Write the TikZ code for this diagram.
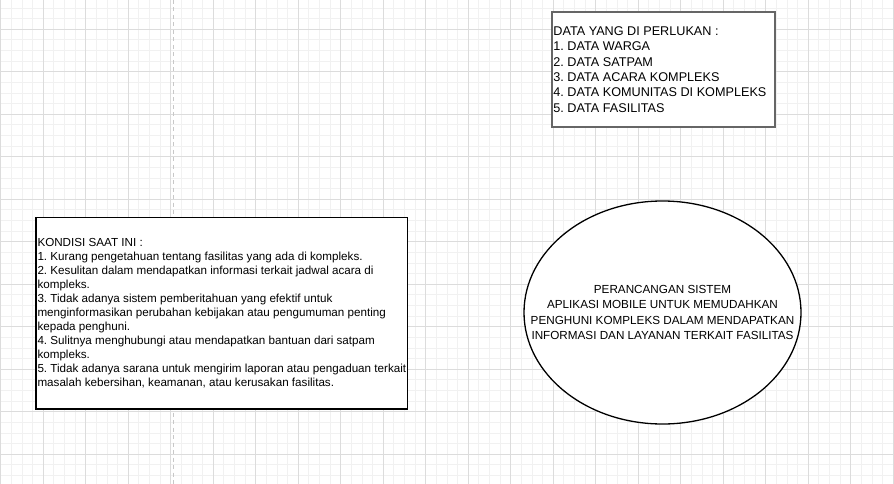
\documentclass[tikz,border=0pt]{standalone}
\usepackage{fontspec}
\setmainfont{Liberation Sans}
\usetikzlibrary{shapes.geometric}
\definecolor{gridminor}{RGB}{241,241,241}
\definecolor{gridmajor}{RGB}{220,220,220}
\definecolor{dashgray}{RGB}{200,200,200}
\definecolor{boxgray}{RGB}{102,102,102}
\tikzset{
  databox/.style={draw=boxgray, line width=2pt, fill=white, inner sep=0pt, anchor=north west},
  kondbox/.style={draw=black, line width=1.4pt, fill=white, inner sep=0pt, anchor=north west},
  sysellipse/.style={ellipse, draw=black, line width=1.3pt, fill=white, inner sep=0pt,
    minimum width=277pt, minimum height=223pt},
  midtext/.style={inner sep=0pt, align=center, font=\fontsize{11.7}{15.5}\selectfont},
  bigtext/.style={inner sep=0pt, align=left, anchor=west, font=\fontsize{12.65}{15.3}\selectfont},
  smalltext/.style={inner sep=0pt, align=left, anchor=west, font=\fontsize{11.65}{14.0}\selectfont},
  guide/.style={dashgray, line width=1.5pt, dash pattern=on 4pt off 3.5pt}
}
\begin{document}
\frenchspacing
\begin{tikzpicture}[x=1pt,y=-1pt]
\useasboundingbox (0,0) rectangle (894,484);
\fill[white] (0,0) rectangle (894,484);
% grid
\foreach \k in {0,...,84} {\draw[gridminor, line width=1pt] ({0.8+10.625*\k},0) -- ({0.8+10.625*\k},484);}
\foreach \k in {-2,...,42} {\draw[gridminor, line width=1pt] (0,{29.3+10.625*\k}) -- (894,{29.3+10.625*\k});}
\foreach \k in {0,...,21} {\draw[gridmajor, line width=1pt] ({0.8+42.5*\k},0) -- ({0.8+42.5*\k},484);}
\foreach \k in {0,...,10} {\draw[gridmajor, line width=1pt] (0,{29.3+42.5*\k}) -- (894,{29.3+42.5*\k});}
% dashed guide
\coordinate (gtop) at (173.3,0);
\coordinate (gbot) at (173.3,484);
\draw[guide] (gtop) -- (gbot);
% data box
\node[databox, minimum width=222.8pt, minimum height=115.2pt] (data) at (551.2,10.8) {};
\node[bigtext] (datatext) at ([xshift=2pt]data.west) {DATA YANG DI PERLUKAN :\\1. DATA WARGA\\2. DATA SATPAM\\3. DATA ACARA KOMPLEKS\\4. DATA KOMUNITAS DI KOMPLEKS\\5. DATA FASILITAS};
% kondisi box
\node[kondbox, minimum width=371.7pt, minimum height=191.6pt] (kond) at (35.3,216.7) {};
\node[smalltext] (kondtext) at ([xshift=2pt]kond.west) {KONDISI SAAT INI :\\1. Kurang pengetahuan tentang fasilitas yang ada di kompleks.\\2. Kesulitan dalam mendapatkan informasi terkait jadwal acara di\\kompleks.\\3. Tidak adanya sistem pemberitahuan yang efektif untuk\\menginformasikan perubahan kebijakan atau pengumuman penting\\kepada penghuni.\\4. Sulitnya menghubungi atau mendapatkan bantuan dari satpam\\kompleks.\\5. Tidak adanya sarana untuk mengirim laporan atau pengaduan terkait\\masalah kebersihan, keamanan, atau kerusakan fasilitas.};
% ellipse
\node[sysellipse] (sys) at (662.5,312.5) {};
\node[midtext] (systext) at (sys.center) {PERANCANGAN SISTEM\\APLIKASI MOBILE UNTUK MEMUDAHKAN\\PENGHUNI KOMPLEKS DALAM MENDAPATKAN\\INFORMASI DAN LAYANAN TERKAIT FASILITAS};
\end{tikzpicture}
\end{document}
